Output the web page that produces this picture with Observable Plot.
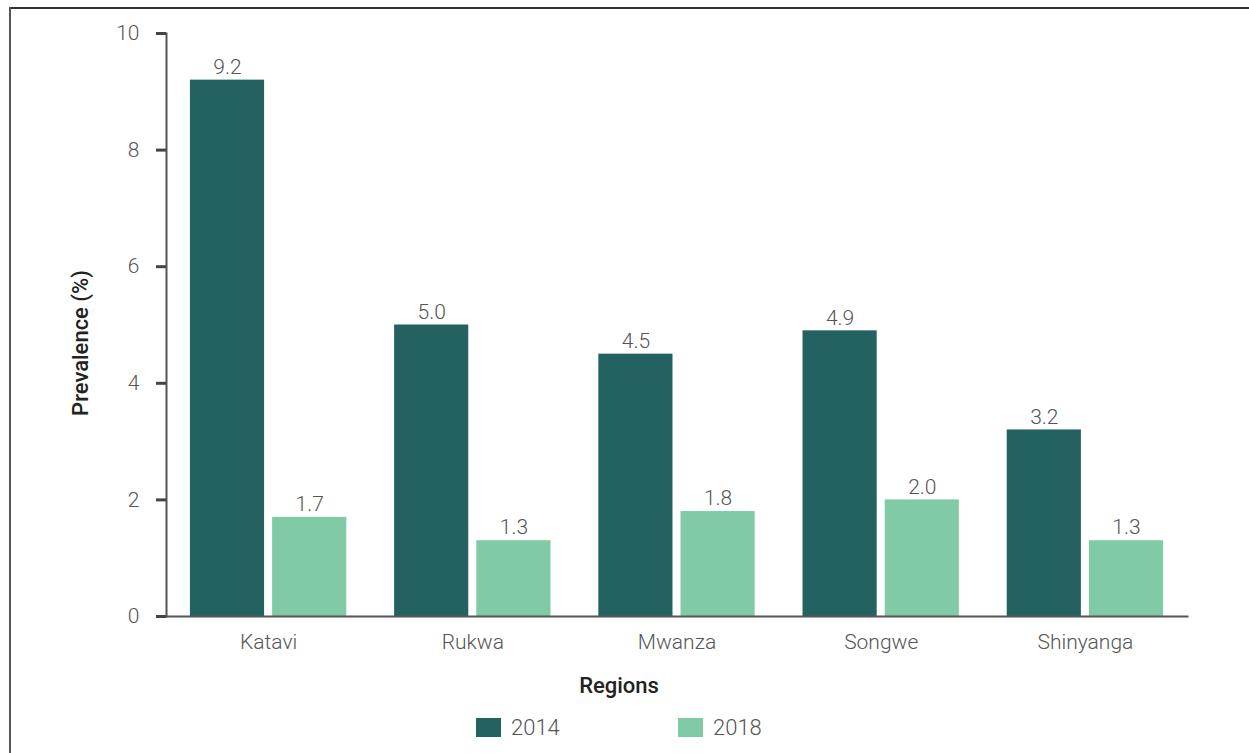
<!DOCTYPE html>
<html>
<head>
<meta charset="utf-8">
<script src="https://cdn.jsdelivr.net/npm/d3@7"></script>
<script src="https://cdn.jsdelivr.net/npm/@observablehq/plot@0.6"></script>
<style>
  html, body { margin: 0; padding: 0; background: #fff; }
  #wrap { position: relative; width: 1249px; height: 753px; overflow: hidden; font-family: Roboto, "Noto Sans", sans-serif; }
  #borderTop { position: absolute; left: 9px; top: 7px; width: 1240px; height: 2px; background: #333; }
  #borderLeft { position: absolute; left: 9px; top: 7px; width: 2px; height: 746px; background: #555; }
  #chart { position: absolute; left: 0; top: 0; }
  #legend { position: absolute; top: 712px; left: 0; width: 1249px; height: 30px; }
  .item { position: absolute; top: 0; height: 30px; display: flex; align-items: center; }
  .sw { width: 25px; height: 19px; margin-right: 10px; }
  .lab { font-size: 22px; font-weight: 300; color: #555; }
</style>
</head>
<body>
<div id="wrap">
  <div id="borderTop"></div>
  <div id="borderLeft"></div>
  <div id="chart"></div>
  <div id="legend"></div>
</div>
<script>
const regions = ["Katavi", "Rukwa", "Mwanza", "Songwe", "Shinyanga"];
const years = ["2014", "2018"];
const values2014 = [9.2, 5.0, 4.5, 4.9, 3.2];
const values2018 = [1.7, 1.3, 1.8, 2.0, 1.3];
const yTicks = [0, 2, 4, 6, 8, 10];
const colors = ["#246262", "#80CBA5"];
const yTitle = "Prevalence (%)";
const xTitle = "Regions";

const data = [];
regions.forEach((r, i) => {
  data.push({region: r, year: years[0], value: values2014[i]});
  data.push({region: r, year: years[1], value: values2018[i]});
});

const fmt = d3.format(".1f");

const chart = Plot.plot({
  width: 1249,
  height: 705,
  marginLeft: 166,
  marginRight: 62,
  marginTop: 33,
  marginBottom: 89,
  style: {fontFamily: "Roboto, 'Noto Sans', sans-serif", background: "transparent"},
  fx: {domain: regions, padding: 0, round: false, label: null},
  x: {domain: years, paddingInner: 0.0976, paddingOuter: 0.291, round: false, axis: null},
  y: {domain: [0, 10], label: null},
  color: {domain: years, range: colors},
  marks: [
    Plot.barY(data, {fx: "region", x: "year", y: "value", fill: "year"}),
    Plot.text(data, {fx: "region", x: "year", y: "value", text: d => fmt(d.value), dy: -13,
      fontSize: 21, fontWeight: 300, fill: "#555"}),
    Plot.frame({anchor: "left", stroke: "#555", strokeWidth: 2, facet: "super"}),
    Plot.frame({anchor: "bottom", stroke: "#555", strokeWidth: 2, facet: "super"}),
    Plot.axisY(yTicks, {ticks: yTicks, tickSize: 10, tickPadding: 17, strokeWidth: 3, stroke: "#444",
      fontSize: 21, fontWeight: 300, color: "#555", label: null, tickFormat: d => String(d)}),
    Plot.axisFx({anchor: "bottom", tickSize: 0, tickPadding: 18, fontSize: 21, fontWeight: 300, color: "#555", label: null}),
    Plot.text([yTitle], {frameAnchor: "left", textAnchor: "middle", rotate: -90, dx: -86, dy: 18,
      fontSize: 22, fontWeight: 500, fill: "#222", facet: "super"}),
    Plot.text([xTitle], {frameAnchor: "bottom", textAnchor: "middle", dx: -58, dy: 76,
      fontSize: 22, fontWeight: 500, fill: "#222", facet: "super"})
  ]
});
document.getElementById("chart").appendChild(chart);

const legend = document.getElementById("legend");
const legendLeft = [476, 678];
years.forEach((y, i) => {
  const item = document.createElement("div");
  item.className = "item";
  item.style.left = legendLeft[i] + "px";
  const sw = document.createElement("div");
  sw.className = "sw";
  sw.style.background = colors[i];
  const lab = document.createElement("span");
  lab.className = "lab";
  lab.textContent = y;
  item.appendChild(sw);
  item.appendChild(lab);
  legend.appendChild(item);
});
</script>
</body>
</html>
